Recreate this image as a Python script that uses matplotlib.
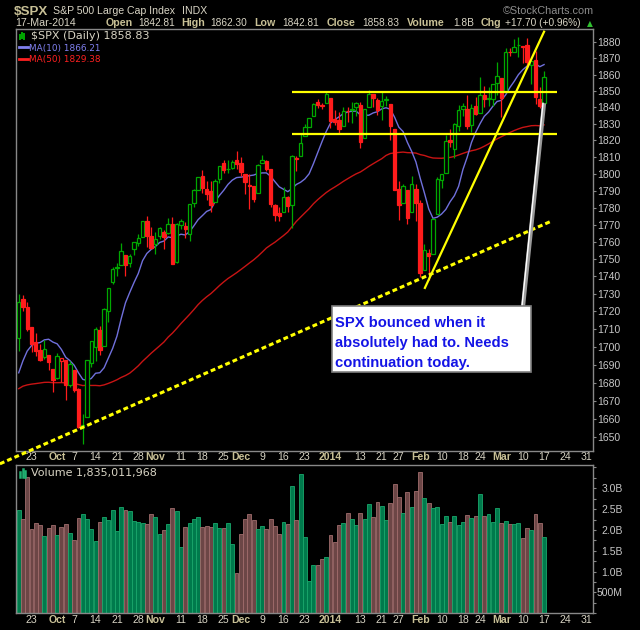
import matplotlib
matplotlib.use('agg')

import matplotlib.pyplot as plt
import matplotlib.ticker as ticker
from matplotlib.lines import Line2D
from matplotlib.patches import Rectangle
import numpy as np
import pandas as pd

plt.rcParams['font.family'] = ['Liberation Sans', 'DejaVu Sans']

# closes before the first bar (Jul 8 - Sep 17 2013), only used to warm up the moving averages
warmup_close = [1640.46, 1652.32, 1652.62, 1675.02, 1680.19, 1682.50, 1676.26, 1680.91, 1689.37, 1692.09,
                1695.53, 1692.39, 1685.94, 1690.25, 1691.65, 1685.33, 1685.96, 1685.73, 1706.87, 1709.67,
                1707.14, 1697.37, 1690.91, 1697.48, 1691.42, 1689.47, 1694.16, 1685.39, 1661.32, 1655.83,
                1646.06, 1652.35, 1642.80, 1656.96, 1663.50, 1656.78, 1630.48, 1634.96, 1638.17, 1632.97,
                1639.77, 1653.08, 1655.08, 1655.17, 1671.71, 1683.99, 1689.13, 1683.42, 1687.99, 1697.60,
                1704.76]

first_day = '2013-09-18'
last_axis_day = '2014-03-31'
holidays = ['2013-11-28', '2013-12-25', '2014-01-01', '2014-01-20', '2014-02-17']

spx_open = [1705.0, 1727.0, 1722.4, 1711.4, 1702.6, 1698.0, 1694.0, 1695.5, 1687.3,
            1682.4, 1691.9, 1692.4, 1678.8, 1687.2, 1676.2, 1656.0, 1660.9, 1691.1, 1699.9,
            1709.2, 1700.5, 1720.2, 1736.7, 1745.2, 1746.5, 1752.3, 1747.5, 1756.0, 1759.4,
            1762.9, 1772.3, 1763.2,
            1758.7, 1763.4, 1765.7, 1765.0, 1770.7, 1748.4, 1769.7, 1769.5, 1764.4, 1782.8,
            1790.7, 1798.8, 1790.8, 1789.6, 1783.5, 1797.2, 1806.3, 1802.9, 1803.5, 1808.0,
            1806.6, 1800.1, 1793.6, 1792.8, 1788.4, 1806.2, 1807.6, 1802.8, 1781.7, 1777.0,
            1777.5, 1786.5, 1781.5, 1809.0, 1810.4, 1822.9, 1828.0, 1834.9, 1843.0, 1841.5, 1842.6,
            1845.9, 1833.2, 1832.3, 1828.7, 1837.9, 1839.0, 1840.1, 1841.3, 1821.4, 1840.5,
            1848.0, 1844.2, 1841.1, 1844.7, 1842.3, 1827.0, 1791.0, 1783.0, 1790.2, 1777.2, 1790.9,
            1782.7, 1743.8, 1753.4, 1753.0, 1776.0, 1796.2, 1800.5, 1820.1, 1814.8, 1828.5,
            1839.0, 1838.9, 1829.2, 1841.1, 1836.8, 1847.7, 1845.8, 1844.9, 1855.1,
            1857.7, 1849.2, 1874.1, 1874.2, 1878.5, 1877.9, 1878.3, 1866.2, 1869.1, 1845.1, 1842.8]

spx_high = [1729.9, 1729.4, 1725.2, 1711.4, 1707.6, 1701.7, 1703.9, 1695.5, 1687.3,
            1696.6, 1693.9, 1692.4, 1691.9, 1687.2, 1676.8, 1662.4, 1692.6, 1703.4, 1711.0,
            1711.6, 1721.8, 1733.5, 1745.3, 1747.8, 1759.3, 1752.3, 1753.0, 1759.8, 1764.8,
            1772.1, 1775.2, 1768.5,
            1765.7, 1768.8, 1767.0, 1773.7, 1774.5, 1770.8, 1773.4, 1771.8, 1782.0, 1791.0,
            1798.2, 1802.3, 1795.5, 1795.7, 1797.2, 1804.8, 1808.1, 1808.4, 1808.0, 1813.6,
            1810.0, 1800.1, 1799.8, 1792.8, 1806.0, 1811.5, 1808.5, 1802.9, 1782.0, 1780.1,
            1792.2, 1786.8, 1811.1, 1810.9, 1823.8, 1829.8, 1833.4, 1842.8, 1844.9, 1842.5, 1849.4,
            1845.9, 1838.2, 1837.2, 1840.1, 1840.0, 1843.2, 1843.2, 1843.5, 1839.3, 1850.8,
            1848.0, 1846.0, 1849.3, 1846.9, 1842.3, 1827.0, 1796.0, 1793.9, 1790.2, 1798.8, 1793.9,
            1784.8, 1758.7, 1755.8, 1774.1, 1798.0, 1799.9, 1823.5, 1826.6, 1830.3, 1841.7,
            1842.9, 1847.5, 1842.1, 1846.1, 1858.7, 1852.9, 1852.7, 1854.5, 1867.9,
            1857.7, 1876.2, 1876.5, 1881.9, 1883.6, 1877.9, 1882.4, 1868.4, 1874.4, 1852.4, 1862.3]

spx_low = [1697.6, 1720.2, 1708.9, 1697.1, 1694.9, 1691.9, 1693.1, 1687.1, 1674.9,
           1682.1, 1680.3, 1670.4, 1677.3, 1674.7, 1655.0, 1646.5, 1660.9, 1688.5, 1692.1,
           1695.5, 1700.5, 1714.1, 1735.7, 1740.3, 1746.5, 1740.5, 1745.5, 1752.5, 1757.7,
           1762.9, 1757.2, 1755.7,
           1752.7, 1761.6, 1755.8, 1764.4, 1746.9, 1747.6, 1767.3, 1762.3, 1760.6, 1780.2,
           1790.7, 1788.4, 1784.7, 1777.2, 1783.5, 1794.7, 1800.6, 1800.8, 1802.9, 1803.0,
           1798.6, 1787.9, 1779.1, 1783.4, 1788.4, 1806.2, 1801.8, 1780.1, 1772.3, 1772.4,
           1777.5, 1777.2, 1768.0, 1801.7, 1810.4, 1822.9, 1828.0, 1834.9, 1839.8, 1838.8, 1842.4,
           1827.7, 1829.1, 1823.7, 1828.7, 1831.4, 1830.4, 1834.7, 1815.5, 1821.4, 1840.5,
           1840.3, 1835.2, 1832.4, 1840.9, 1820.1, 1790.2, 1772.9, 1783.0, 1770.5, 1777.2, 1772.3,
           1739.7, 1743.8, 1737.9, 1753.0, 1776.0, 1791.8, 1800.5, 1816.0, 1809.2, 1825.9,
           1835.0, 1827.0, 1824.9, 1835.6, 1836.8, 1840.2, 1840.7, 1841.1, 1847.7,
           1834.4, 1849.2, 1871.6, 1874.2, 1870.6, 1867.0, 1863.9, 1854.4, 1841.9, 1839.6, 1842.8]

spx_close = [1725.52, 1722.34, 1709.91, 1701.84, 1697.42, 1692.77, 1698.67, 1691.75, 1681.55,
             1695.00, 1693.87, 1678.66, 1690.50, 1676.12, 1655.45, 1656.40, 1692.56, 1703.20, 1710.14,
             1698.06, 1721.54, 1733.15, 1744.50, 1744.66, 1754.67, 1746.38, 1752.07, 1759.77, 1762.11,
             1771.95, 1763.31, 1756.54,
             1761.64, 1767.93, 1762.97, 1770.49, 1747.15, 1770.61, 1771.89, 1767.69, 1782.00, 1790.62,
             1798.18, 1791.53, 1787.87, 1781.37, 1795.85, 1804.76, 1802.48, 1802.75, 1807.23, 1805.81,
             1800.90, 1795.15, 1792.81, 1785.03, 1805.09, 1808.37, 1802.62, 1782.22, 1775.50, 1775.32,
             1786.54, 1781.00, 1810.65, 1809.60, 1818.32, 1827.99, 1833.32, 1842.02, 1841.40, 1841.07,
             1848.36,
             1831.98, 1831.37, 1826.77, 1837.88, 1837.49, 1838.13, 1842.37, 1819.20, 1838.88, 1848.38,
             1845.89, 1838.70, 1843.80, 1844.86, 1828.46, 1790.29, 1781.56, 1792.50, 1774.20, 1794.19,
             1782.59,
             1741.89, 1755.20, 1751.64, 1773.43, 1797.02, 1799.84, 1819.75, 1819.26, 1829.83, 1838.63,
             1840.76, 1828.75, 1839.78, 1836.25, 1847.61, 1845.12, 1845.16, 1854.29, 1859.45,
             1845.73, 1873.91, 1873.81, 1877.03, 1878.04, 1877.17, 1867.63, 1868.20, 1846.34, 1841.13,
             1858.83]

# daily volume in billions of shares
volume_b = [2.48, 2.27, 3.26, 2.03, 2.17, 2.12, 1.85, 2.05, 2.12,
            1.87, 2.07, 2.15, 1.93, 1.76, 2.29, 2.39, 2.27, 2.03, 1.74, 2.19, 2.31, 2.24, 2.48,
            1.98, 2.55, 2.48, 2.46, 2.22, 2.19, 2.17, 2.15, 2.39,
            2.31, 1.91, 2.00, 2.15, 2.53, 2.46, 1.60, 2.07, 2.17, 2.27, 2.31, 2.07, 2.10, 2.07,
            2.17, 2.05, 2.05, 2.17, 1.67, 0.97,
            1.91, 2.27, 2.39, 2.24, 2.03, 2.10, 2.03, 2.27, 2.10, 1.91, 2.19, 2.15, 3.06, 2.24,
            3.34, 1.83, 0.78, 1.16, 1.16, 1.31, 1.36,
            1.88, 1.72, 2.12, 2.17, 2.41, 2.27, 2.12, 2.41, 2.27, 2.62, 2.31, 2.67, 2.58, 2.24,
            2.65, 3.10, 2.79, 2.41, 2.91, 2.55, 2.94,
            3.39, 2.77, 2.65, 2.53, 2.55, 2.15, 2.34, 2.19, 2.34, 2.12, 2.19, 2.36, 2.29, 2.34,
            2.86, 2.34, 2.39, 2.19, 2.53,
            2.17, 2.22, 2.15, 2.15, 2.17, 1.81, 2.05, 2.00, 2.39, 2.17, 1.84]

tick_dates = ['2013-09-23', '2013-10-01', '2013-10-07', '2013-10-14', '2013-10-21', '2013-10-28',
              '2013-11-01', '2013-11-11', '2013-11-18', '2013-11-25', '2013-12-02', '2013-12-09',
              '2013-12-16', '2013-12-23', '2014-01-02', '2014-01-13', '2014-01-21', '2014-01-27',
              '2014-02-03', '2014-02-10', '2014-02-18', '2014-02-24', '2014-03-03', '2014-03-10',
              '2014-03-17', '2014-03-24', '2014-03-31']
tick_labels = ['23', 'Oct', '7', '14', '21', '28', 'Nov', '11', '18', '25', 'Dec', '9', '16', '23',
               '2014', '13', '21', '27', 'Feb', '10', '18', '24', 'Mar', '10', '17', '24', '31']
bold_ticks = ['Oct', 'Nov', 'Dec', '2014', 'Feb', 'Mar']

price_ticks = [1650, 1660, 1670, 1680, 1690, 1700, 1710, 1720, 1730, 1740, 1750, 1760,
               1770, 1780, 1790, 1800, 1810, 1820, 1830, 1840, 1850, 1860, 1870, 1880]
vol_ticks = [0.5, 1.0, 1.5, 2.0, 2.5, 3.0]
vol_tick_labels = ['500M', '1.0B', '1.5B', '2.0B', '2.5B', '3.0B']

# hand drawn lines: (bar position, price)
resistance_levels = [1849.2, 1823.6]
resistance_span = (64.0, 126.0)
rising_line = [(95.1, 1733.4), (123.0, 1886.6)]
support_line = [(-4.4, 1635.5), (124.8, 1772.2)]
callout_line = [(118.1, 1723.3), (123.0, 1842.5)]

header_symbol = '$SPX'
header_name = 'S&P 500 Large Cap Index'
header_exchange = 'INDX'
header_date = '17-Mar-2014'
header_fields = [('Open', '1842.81'), ('High', '1862.30'), ('Low', '1842.81'),
                 ('Close', '1858.83'), ('Volume', '1.8B'), ('Chg', '+17.70 (+0.96%)')]
legend_price = '$SPX (Daily) 1858.83'
legend_ma10 = 'MA(10) 1866.21'
legend_ma50 = 'MA(50) 1829.38'
legend_volume = 'Volume 1,835,011,968'
callout_text = ['SPX bounced when it', 'absolutely had to. Needs', 'continuation today.']

W, H = 640, 630
GREEN = '#00a800'
RED = '#ff1c1c'
YELLOW = '#ffff00'
FRAME = '#888888'
KHAKI = '#c8c096'
LIGHT = '#d8d4c4'


def fx(x):
    return x / W


def fy(y):
    return 1 - y / H


def fig_line(fig, xs, ys, **kw):
    fig.add_artist(Line2D([fx(v) for v in xs], [fy(v) for v in ys],
                          transform=fig.transFigure, **kw))


def style_axes(ax):
    ax.set_facecolor('black')
    for s in ax.spines.values():
        s.set_color(FRAME)
        s.set_linewidth(1.0)


def set_xticks(ax, idx, pad):
    ax.xaxis.set_major_locator(ticker.FixedLocator(idx))
    ax.xaxis.set_major_formatter(ticker.FixedFormatter(tick_labels))
    ax.tick_params(axis='x', which='both', length=0, pad=pad, labelsize=7.6, labelcolor=LIGHT)
    for t in ax.get_xticklabels():
        if t.get_text() in bold_ticks:
            t.set_fontweight('bold')
            t.set_color(KHAKI)


def main():
    days = pd.bdate_range(first_day, last_axis_day)
    days = days[~days.isin(pd.to_datetime(holidays))]
    tick_idx = [days.get_loc(pd.Timestamp(d)) for d in tick_dates]

    o = np.array(spx_open)
    h = np.array(spx_high)
    l = np.array(spx_low)
    c = np.array(spx_close)
    x = np.arange(len(c))
    prev = np.concatenate([[warmup_close[-1]], c[:-1]])
    up = c >= prev
    col = [GREEN if u else RED for u in up]

    all_close = pd.Series(warmup_close + spx_close)
    ma10 = all_close.rolling(10).mean().values[len(warmup_close):]
    ma50 = all_close.rolling(50).mean().values[len(warmup_close):]

    fig = plt.figure(figsize=(6.4, 6.3), dpi=100, facecolor='black')
    ax = fig.add_axes([fx(16), fy(450.7), (593 - 16) / W, (450.7 - 29.3) / H])
    vax = fig.add_axes([fx(16), fy(613.3), (593 - 16) / W, (613.3 - 465) / H])
    style_axes(ax)
    style_axes(vax)

    # price panel
    ax.set_yscale('log')
    ax.plot(x, ma50, color='#c81414', linewidth=1.0, zorder=1)
    ax.plot(x, ma10, color='#7070dc', linewidth=1.0, zorder=1)
    ax.vlines(x, l, h, colors=col, linewidth=0.9, zorder=2)
    bottom = np.minimum(o, c)
    height = np.maximum(np.abs(c - o), 0.35)
    face = [cc if cl < op else 'black' for cc, cl, op in zip(col, c, o)]
    ax.bar(x, height, bottom=bottom, width=0.8, color=face, edgecolor=col,
           linewidth=0.9, zorder=3)

    for level in resistance_levels:
        ax.hlines(level, resistance_span[0], resistance_span[1], color=YELLOW,
                  linewidth=1.6, zorder=4)
    ax.plot([p[0] for p in rising_line], [p[1] for p in rising_line], color=YELLOW,
            linewidth=1.6, zorder=4)
    ax.plot([p[0] for p in support_line], [p[1] for p in support_line], color=YELLOW,
            linewidth=2.2, dashes=(1.6, 1.0), zorder=4, clip_on=False)
    ax.plot([p[0] for p in callout_line], [p[1] for p in callout_line], color='#9a9a9a',
            linewidth=3.0, zorder=5, solid_capstyle='butt')
    ax.plot([p[0] - 0.25 for p in callout_line], [p[1] for p in callout_line], color='white',
            linewidth=1.0, zorder=5)

    ax.set_xlim(-0.63, 134.46)
    ax.set_ylim(1642.6, 1888.1)
    ax.yaxis.tick_right()
    ax.yaxis.set_major_locator(ticker.FixedLocator(price_ticks))
    ax.yaxis.set_minor_locator(ticker.NullLocator())
    ax.yaxis.set_major_formatter(ticker.FuncFormatter(lambda v, p: '%d' % v))
    ax.tick_params(axis='y', which='major', length=2.2, width=0.8, color=FRAME, pad=0.6,
                   labelsize=7.5, labelcolor='#c8c8c8')
    set_xticks(ax, tick_idx, 0.8)

    # volume panel
    vcol = ['#007a4c' if u else '#6c4646' for u in up]
    vedge = ['#1aa86c' if u else '#a06c6c' for u in up]
    vax.bar(x, volume_b, width=0.92, color=vcol, edgecolor=vedge, linewidth=0.6)
    vax.set_xlim(-0.63, 134.46)
    vax.set_ylim(0, 3.56)
    vax.yaxis.tick_right()
    vax.yaxis.set_major_locator(ticker.FixedLocator(vol_ticks))
    vax.yaxis.set_major_formatter(ticker.FixedFormatter(vol_tick_labels))
    vax.yaxis.set_minor_locator(ticker.MultipleLocator(0.25))
    vax.tick_params(axis='y', which='major', length=2.2, width=0.8, color=FRAME, pad=19.4,
                    labelsize=7.5, labelcolor='#c8c8c8')
    vax.tick_params(axis='y', which='minor', length=2.2, width=0.8, color=FRAME)
    for t in vax.get_yticklabels():
        t.set_horizontalalignment('right')
    set_xticks(vax, tick_idx, 1.4)

    # header
    fig.text(fx(14), fy(15), header_symbol, fontsize=9.6, fontweight='bold', color=KHAKI,
             va='baseline')
    fig.text(fx(53.3), fy(14), header_name, fontsize=7.6, color=LIGHT, va='baseline')
    fig.text(fx(181.6), fy(14), header_exchange, fontsize=7.6, color=LIGHT, va='baseline')
    fig.text(fx(503), fy(14), '\u00a9StockCharts.com', fontsize=7.8, color='#8c8c8c',
             va='baseline')
    fig.text(fx(15), fy(26.5), header_date, fontsize=7.7, color=LIGHT, va='baseline')
    label_x = [105.3, 181.6, 254.0, 326.5, 407.0, 480.4]
    value_x = [138.0, 210.0, 282.4, 362.4, 453.0, 505.3]
    for (name, val), lx, vx in zip(header_fields, label_x, value_x):
        fig.text(fx(lx), fy(26.5), name, fontsize=7.7, fontweight='bold', color=KHAKI,
                 va='baseline')
        fig.text(fx(vx), fy(26.5), val, fontsize=7.3, color=LIGHT, va='baseline')
    fig.text(fx(586.5), fy(26), '\u25b2', fontsize=5.5, color='#30c030', va='baseline',
             family=['DejaVu Sans'])

    # legends
    for lx, y0, y1 in [(19.5, 34.5, 38.5), (21.5, 33, 38), (23.5, 34, 38.5)]:
        fig_line(fig, [lx, lx], [y0, y1], color=GREEN, linewidth=1.4)
    fig.text(fx(31), fy(39), legend_price, fontsize=8, color=LIGHT, va='baseline',
             family=['DejaVu Sans'])
    fig_line(fig, [19, 28], [47, 47], color='#8080f0', linewidth=2)
    fig.text(fx(29.3), fy(50.5), legend_ma10, fontsize=6.4, color='#8080f0', va='baseline',
             family=['DejaVu Sans'])
    fig_line(fig, [19, 28], [58.5, 58.5], color='#ff2020', linewidth=2)
    fig.text(fx(29.3), fy(62), legend_ma50, fontsize=6.4, color='#ff2020', va='baseline',
             family=['DejaVu Sans'])
    for lx, y0 in [(20, 472), (22.5, 469), (25, 471)]:
        fig_line(fig, [lx, lx], [y0, 477], color='#20b070', linewidth=1.8)
    fig.text(fx(31), fy(476), legend_volume, fontsize=8, color=LIGHT, va='baseline',
             family=['DejaVu Sans'])

    # callout box
    fig.add_artist(Rectangle((fx(331.7), fy(372.3)), (530.7 - 331.7) / W, (372.3 - 306) / H,
                             transform=fig.transFigure, facecolor='white',
                             edgecolor='#808080', linewidth=1.2))
    for i, line in enumerate(callout_text):
        fig.text(fx(335), fy(326.5 + 20 * i), line, fontsize=10.6, fontweight='bold',
                 color='#1414e6', va='baseline')

    fig.savefig('out.png', dpi=100, facecolor='black')


if __name__ == "__main__":
    main()
